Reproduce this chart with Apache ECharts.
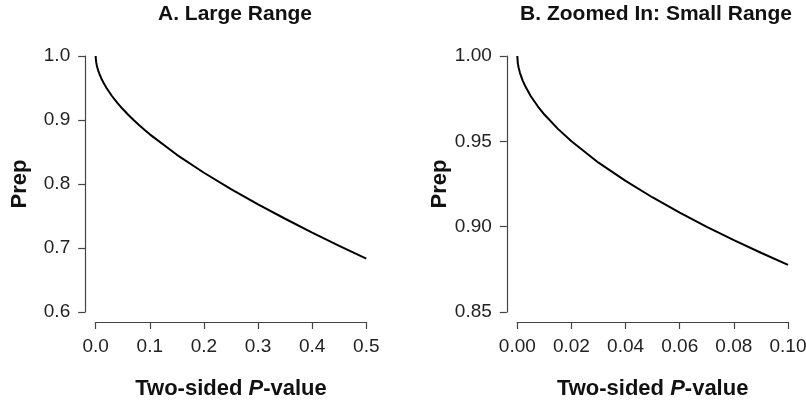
<!DOCTYPE html>
<html>
<head>
<meta charset="utf-8">
<script src="https://cdn.jsdelivr.net/npm/echarts@6/dist/echarts.min.js"></script>
<style>
html, body { margin: 0; padding: 0; background: #fff; }
#main { width: 806px; height: 402px; }
</style>
</head>
<body>
<div id="main"></div>
<script>
// two-sided p-values and the Prep values
var pValues = [0, 0.0002, 0.0005, 0.001, 0.002, 0.003, 0.005, 0.0075, 0.01, 0.015, 0.02, 0.03, 0.04, 0.05, 0.06, 0.07, 0.08, 0.09, 0.1,
               0.15, 0.2, 0.25, 0.3, 0.35, 0.4, 0.45, 0.5];
var prepValues = [1.0, 0.9957, 0.9931, 0.9900, 0.9856, 0.9821, 0.9764, 0.9707, 0.9657, 0.9573, 0.9500, 0.9375, 0.9268, 0.9171, 0.9082, 0.8999, 0.8921, 0.8847, 0.8776,
                  0.8456, 0.8176, 0.7920, 0.7682, 0.7457, 0.7241, 0.7034, 0.6833];

var titles = ['A. Large Range', 'B. Zoomed In: Small Range'];
var xTicksA = [0, 0.5, 0.1];   // min, max, interval
var yTicksA = [0.6, 1.0, 0.1];
var xTicksB = [0, 0.1, 0.02];
var yTicksB = [0.85, 1.0, 0.05];

var dataA = [], dataB = [];
for (var i = 0; i < pValues.length; i++) {
    dataA.push([pValues[i], prepValues[i]]);
    if (pValues[i] <= 0.1) dataB.push([pValues[i], prepValues[i]]);
}

var font = 'Liberation Sans, Arial, sans-serif';
var axisCol = '#444';

function xAxisOf(idx, ticks, dec) {
    return {
        type: 'value', gridIndex: idx,
        min: ticks[0], max: ticks[1], interval: ticks[2],
        offset: 10,
        name: '{b|Two-sided }{i|P}{b|-value}',
        nameLocation: 'middle', nameGap: 56,
        nameTextStyle: {
            rich: {
                b: { fontFamily: font, fontSize: 22, fontWeight: 'bold', color: '#111' },
                i: { fontFamily: font, fontSize: 22, fontWeight: 'bold', fontStyle: 'italic', color: '#111' }
            }
        },
        axisLine: { show: true, onZero: false, lineStyle: { color: axisCol, width: 1.2 } },
        axisTick: { show: true, length: 7, lineStyle: { color: axisCol, width: 1.2 } },
        axisLabel: {
            margin: 15, color: '#222', fontFamily: font, fontSize: 19,
            formatter: function (v) { return v.toFixed(dec); }
        },
        splitLine: { show: false }
    };
}

function yAxisOf(idx, ticks, dec, gap) {
    return {
        type: 'value', gridIndex: idx,
        min: ticks[0], max: ticks[1], interval: ticks[2],
        offset: 10.5,
        name: 'Prep',
        nameLocation: 'middle', nameGap: gap, nameRotate: 90,
        nameTextStyle: { fontFamily: font, fontSize: 22, fontWeight: 'bold', color: '#111' },
        axisLine: { show: true, onZero: false, lineStyle: { color: axisCol, width: 1.2 } },
        axisTick: { show: true, length: 7, lineStyle: { color: axisCol, width: 1.2 } },
        axisLabel: {
            margin: 15, color: '#222', fontFamily: font, fontSize: 19,
            formatter: function (v) { return v.toFixed(dec); }
        },
        splitLine: { show: false }
    };
}

var option = {
    animation: false,
    backgroundColor: '#fff',
    title: [
        { text: titles[0], left: 230, top: -1, textAlign: 'center',
          textStyle: { fontFamily: font, fontSize: 21, fontWeight: 'bold', color: '#111' } },
        { text: titles[1], left: 651, top: -1, textAlign: 'center',
          textStyle: { fontFamily: font, fontSize: 21, fontWeight: 'bold', color: '#111' } }
    ],
    grid: [
        { left: 95.7, top: 56, width: 270.6, height: 256, outerBoundsMode: 'none' },
        { left: 517.3, top: 56, width: 270.7, height: 256, outerBoundsMode: 'none' }
    ],
    xAxis: [xAxisOf(0, xTicksA, 1), xAxisOf(1, xTicksB, 2)],
    yAxis: [yAxisOf(0, yTicksA, 1, 54), yAxisOf(1, yTicksB, 2, 55)],
    series: [
        {
            type: 'line', xAxisIndex: 0, yAxisIndex: 0,
            data: dataA, showSymbol: false,
            lineStyle: { color: '#000', width: 2 }
        },
        {
            type: 'line', xAxisIndex: 1, yAxisIndex: 1,
            data: dataB, showSymbol: false,
            lineStyle: { color: '#000', width: 2 }
        }
    ]
};

var dom = document.getElementById('main');
var myChart = echarts.init(dom);
myChart.setOption(option);
</script>
</body>
</html>
